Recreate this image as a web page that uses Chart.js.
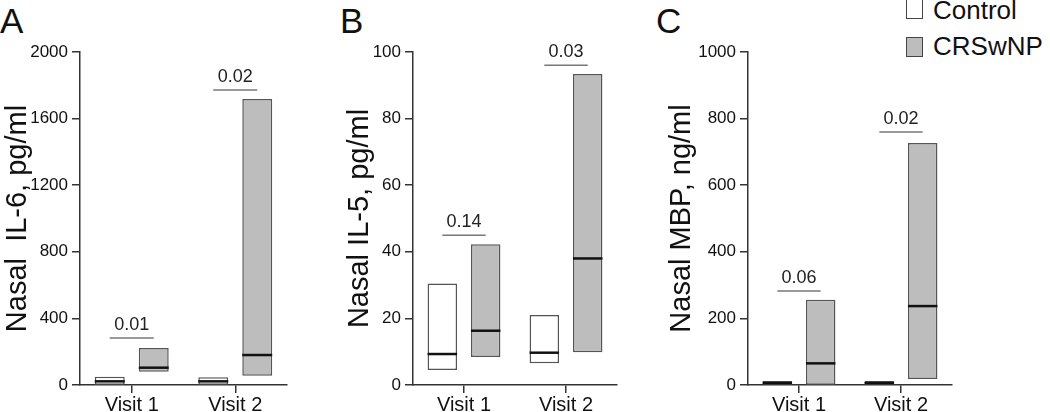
<!DOCTYPE html>
<html>
<head>
<meta charset="utf-8">
<script src="https://cdn.jsdelivr.net/npm/chart.js@4"></script>
<style>
  body { margin: 0; background: #fff; width: 1050px; height: 412px; overflow: hidden; position: relative; font-family: "Liberation Sans", Arial, sans-serif; }
  canvas { position: absolute; top: 0; }
  .letter { position: absolute; font-size: 35px; line-height: 1; color: #111; }
  .legend { position: absolute; left: 906px; font-size: 26px; line-height: 1; color: #111; }
  .legend span.box { position: absolute; left: 0; width: 15px; height: 18px; border: 1.5px solid #444; }
  .legend span.txt { position: absolute; left: 27px; white-space: nowrap; }
</style>
</head>
<body>
<div class="letter" style="left:0px;top:3px">A</div>
<div class="letter" style="left:340px;top:3px">B</div>
<div class="letter" style="left:656px;top:3px">C</div>

<div class="legend" style="top:-1px">
  <span class="box" style="background:#fff"></span>
  <span class="txt" style="top:-2px">Control</span>
</div>
<div class="legend" style="top:37px">
  <span class="box" style="background:#bdbdbd"></span>
  <span class="txt" style="top:-4px">CRSwNP</span>
</div>

<canvas id="chartA" width="300" height="412" style="left:0px"></canvas>
<canvas id="chartB" width="290" height="412" style="left:340px"></canvas>
<canvas id="chartC" width="388" height="412" style="left:662px"></canvas>

<script>
// ================= DATA =================

const visits = ["Visit 1", "Visit 2"];
const seriesNames = ["Control", "CRSwNP"];

// Panel A: nasal IL-6, pg/ml  (box = [low, high], line = median)
const il6Control = [[2, 50], [2, 46]];
const il6ControlMedian = [22, 22];
const il6Crs = [[80, 222], [55, 1718]];
const il6CrsMedian = [104, 180];
const il6PValues = ["0.01", "0.02"];
const il6PLevels = [282, 1772];

// Panel B: nasal IL-5, pg/ml
const il5Control = [[4.5, 30.5], [6.5, 21]];
const il5ControlMedian = [9.3, 9.7];
const il5Crs = [[8.4, 42.3], [9.8, 93.4]];
const il5CrsMedian = [16.3, 38];
const il5PValues = ["0.14", "0.03"];
const il5PLevels = [45, 96];

// Panel C: nasal MBP, ng/ml
const mbpControl = [[1, 12], [1, 12]];
const mbpControlMedian = [6, 6];
const mbpCrs = [[1, 256], [18, 727]];
const mbpCrsMedian = [65, 237];
const mbpPValues = ["0.06", "0.02"];
const mbpPLevels = [282, 760];

// ================= CHART SETUP =================

Chart.defaults.font.family = '"Liberation Sans", Arial, sans-serif';
Chart.defaults.color = "#111";

const medianAndPPlugin = {
    id: "medianAndP",
    afterDatasetsDraw(chart) {
        const ctx = chart.ctx;
        const y = chart.scales.y;
        const extra = chart.options.plugins.medianAndP;

        // median lines across each box
        chart.data.datasets.forEach((ds, i) => {
            const meta = chart.getDatasetMeta(i);
            meta.data.forEach((bar, j) => {
                const py = y.getPixelForValue(extra.medians[i][j]);
                ctx.save();
                ctx.strokeStyle = "#111";
                ctx.lineWidth = 2.5;
                ctx.beginPath();
                ctx.moveTo(bar.x - bar.width / 2, py);
                ctx.lineTo(bar.x + bar.width / 2, py);
                ctx.stroke();
                ctx.restore();
            });
        });

        // p-value brackets between the two boxes of each visit
        const m0 = chart.getDatasetMeta(0);
        const m1 = chart.getDatasetMeta(1);
        extra.pValues.forEach((p, j) => {
            const x0 = m0.data[j].x;
            const x1 = m1.data[j].x;
            const py = y.getPixelForValue(extra.pLevels[j]);
            ctx.save();
            ctx.strokeStyle = "#777";
            ctx.lineWidth = 1.5;
            ctx.beginPath();
            ctx.moveTo(x0, py);
            ctx.lineTo(x1, py);
            ctx.stroke();
            ctx.fillStyle = "#222";
            ctx.font = '18px "Liberation Sans", Arial, sans-serif';
            ctx.textAlign = "center";
            ctx.textBaseline = "alphabetic";
            ctx.fillText(p, (x0 + x1) / 2, py - 8);
            ctx.restore();
        });
    },
};

function makePanel(id, cfg) {
    return new Chart(document.getElementById(id), {
        type: "bar",
        data: {
            labels: visits,
            datasets: [
                {
                    label: seriesNames[0],
                    data: cfg.control,
                    backgroundColor: "#ffffff",
                    borderColor: "#555",
                    borderWidth: 1.5,
                    borderSkipped: false,
                    categoryPercentage: 0.85,
                    barPercentage: 0.68,
                },
                {
                    label: seriesNames[1],
                    data: cfg.crs,
                    backgroundColor: "#bdbdbd",
                    borderColor: "#555",
                    borderWidth: 1.5,
                    borderSkipped: false,
                    categoryPercentage: 0.85,
                    barPercentage: 0.68,
                },
            ],
        },
        options: {
            responsive: false,
            animation: false,
            layout: { padding: { top: 52, right: cfg.padRight, bottom: 0, left: 0 } },
            plugins: {
                legend: { display: false },
                tooltip: { enabled: false },
                medianAndP: {
                    medians: [cfg.controlMedian, cfg.crsMedian],
                    pValues: cfg.pValues,
                    pLevels: cfg.pLevels,
                },
            },
            scales: {
                x: {
                    type: "category",
                    offset: true,
                    border: { color: "#333", width: 1.5 },
                    grid: { offset: false, drawOnChartArea: false, drawTicks: true, tickLength: 8, color: "#333", lineWidth: 1.5 },
                    ticks: { padding: 0, font: { size: 20 }, color: "#111" },
                    afterFit: (s) => { s.height = 27; },
                },
                y: {
                    min: 0,
                    max: cfg.max,
                    border: { color: "#333", width: 1.5 },
                    grid: { drawOnChartArea: false, drawTicks: true, tickLength: 8, color: "#333", lineWidth: 1.5 },
                    ticks: {
                        stepSize: cfg.step,
                        padding: 4,
                        font: { size: 17 },
                        color: "#111",
                        callback: (v) => String(v),
                    },
                    title: {
                        display: true,
                        text: cfg.title,
                        font: { size: 29 },
                        color: "#111",
                        padding: { top: cfg.titlePad, bottom: 0 },
                    },
                    afterFit: (s) => { s.width = cfg.axisLeft; },
                },
            },
        },
        plugins: [medianAndPPlugin],
    });
}

// ================= PANELS =================

makePanel("chartA", {
    control: il6Control, controlMedian: il6ControlMedian,
    crs: il6Crs, crsMedian: il6CrsMedian,
    pValues: il6PValues, pLevels: il6PLevels,
    max: 2000, step: 400, title: "Nasal  IL-6, pg/ml",
    axisLeft: 80, padRight: 13, titlePad: 1,
});

makePanel("chartB", {
    control: il5Control, controlMedian: il5ControlMedian,
    crs: il5Crs, crsMedian: il5CrsMedian,
    pValues: il5PValues, pLevels: il5PLevels,
    max: 100, step: 20, title: "Nasal IL-5, pg/ml",
    axisLeft: 73, padRight: 13, titlePad: 3,
});

makePanel("chartC", {
    control: mbpControl, controlMedian: mbpControlMedian,
    crs: mbpCrs, crsMedian: mbpCrsMedian,
    pValues: mbpPValues, pLevels: mbpPLevels,
    max: 1000, step: 200, title: "Nasal MBP, ng/ml",
    axisLeft: 86, padRight: 98, titlePad: 3,
});
</script>
</body>
</html>
